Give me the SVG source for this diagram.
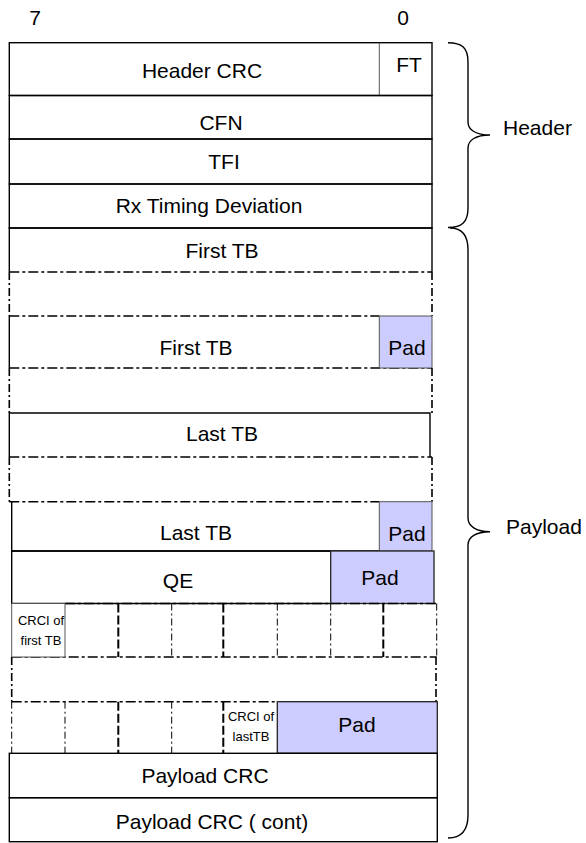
<svg xmlns="http://www.w3.org/2000/svg" width="586" height="843" viewBox="0 0 586 843">
<style>
text{font-family:"Liberation Sans",Arial,sans-serif;font-size:21px;fill:#000;text-anchor:middle}
.sm{font-size:13px}
.solid{fill:none;stroke:#000;stroke-width:1.4}
.thin{fill:none;stroke:#555;stroke-width:1}
.pad{fill:#ccccff;stroke:#555;stroke-width:1}
.pad2{fill:#ccccff;stroke:#222;stroke-width:1.3}
.dd{fill:none;stroke:#000;stroke-width:1.6;stroke-dasharray:10 3 3 3}
.ddv{fill:none;stroke:#000;stroke-width:1.6;stroke-dasharray:8 3 2 3}
.dthick{fill:none;stroke:#000;stroke-width:2;stroke-dasharray:9 3}
.dthin{fill:none;stroke:#000;stroke-width:1;stroke-dasharray:7 3 2 3}
.brace{fill:none;stroke:#000;stroke-width:1.4}
</style>
<g id="bit-labels">
<text x="35" y="25">7</text>
<text x="403" y="25">0</text>
</g>
<g id="row-header-crc">
<rect class="solid" x="9.3" y="42.7" width="422.7" height="52.8"/>
<line class="thin" x1="379.3" y1="42.7" x2="379.3" y2="95.5"/>
<text x="202" y="78">Header CRC</text>
<text x="409" y="72">FT</text>
</g>
<g id="row-cfn">
<rect class="solid" x="9.3" y="95.5" width="422.7" height="43.5"/>
<text x="221" y="130">CFN</text>
</g>
<g id="row-tfi">
<rect class="solid" x="9.3" y="139" width="422.7" height="45"/>
<text x="224" y="169">TFI</text>
</g>
<g id="row-rx">
<rect class="solid" x="9.3" y="184" width="422.7" height="44"/>
<text x="209" y="213">Rx Timing Deviation</text>
</g>
<g id="row-first-tb-1">
<path class="solid" d="M9.3,272 V228 H432 V272"/>
<line class="dd" x1="9.3" y1="272" x2="432" y2="272"/>
<text x="222" y="258">First TB</text>
</g>
<g id="row-gap-1">
<line class="ddv" x1="9.3" y1="272" x2="9.3" y2="316"/>
<line class="ddv" x1="432" y1="272" x2="432" y2="316"/>
<line class="dd" x1="9.3" y1="316" x2="379.3" y2="316"/>
</g>
<g id="row-first-tb-2">
<line class="solid" x1="9.3" y1="316" x2="9.3" y2="368"/>
<line class="dd" x1="9.3" y1="368" x2="432" y2="368"/>
<rect class="pad" x="379.3" y="316" width="52.7" height="52"/>
<text x="196" y="355">First TB</text>
<text x="407" y="355">Pad</text>
</g>
<g id="row-gap-2">
<line class="ddv" x1="9.3" y1="368" x2="9.3" y2="413"/>
<line class="ddv" x1="432" y1="368" x2="432" y2="413"/>
</g>
<g id="row-last-tb-1">
<path class="solid" d="M9.3,457 V413 H430 V457"/>
<line class="dd" x1="9.3" y1="457" x2="432" y2="457"/>
<text x="222" y="441">Last TB</text>
</g>
<g id="row-gap-3">
<line class="ddv" x1="9.3" y1="457" x2="9.3" y2="501.7"/>
<line class="ddv" x1="432" y1="457" x2="432" y2="501.7"/>
<line class="dd" x1="9.3" y1="501.7" x2="379.3" y2="501.7"/>
</g>
<g id="row-last-tb-2">
<path class="solid" d="M11.7,501.7 V551 H379.3"/>
<rect class="pad" x="379.3" y="501.7" width="52.7" height="49.3"/>
<text x="196" y="540">Last TB</text>
<text x="407" y="541">Pad</text>
</g>
<g id="row-qe">
<path class="solid" d="M11.7,551 V603.5 H330.7 M11.7,551 H330.7"/>
<rect class="pad2" x="330.7" y="551" width="103.3" height="52.5"/>
<text x="178" y="588">QE</text>
<text x="380" y="585">Pad</text>
</g>
<g id="row-crci-1">
<line class="dd" x1="65" y1="603.5" x2="436.7" y2="603.5"/>
<line class="dd" x1="11.7" y1="657" x2="436.7" y2="657"/>
<line class="dthick" x1="118.3" y1="603.5" x2="118.3" y2="657"/>
<line class="dthin" x1="171.7" y1="603.5" x2="171.7" y2="657"/>
<line class="dthick" x1="223.3" y1="603.5" x2="223.3" y2="657"/>
<line class="dthin" x1="277.3" y1="603.5" x2="277.3" y2="657"/>
<line class="dthin" x1="330.7" y1="603.5" x2="330.7" y2="657"/>
<line class="dthick" x1="383.3" y1="603.5" x2="383.3" y2="657"/>
<line class="dthin" x1="436.7" y1="603.5" x2="436.7" y2="657"/>
<rect x="11.7" y="603.5" width="53.3" height="53.5" fill="#fff" stroke="#555" stroke-width="1"/>
<text class="sm" x="41" y="625">CRCI of</text>
<text class="sm" x="41" y="645">first TB</text>
</g>
<g id="row-gap-4">
<line class="ddv" x1="11.7" y1="657" x2="11.7" y2="701.7"/>
<line class="ddv" x1="436" y1="657" x2="436" y2="701.7"/>
</g>
<g id="row-crci-2">
<line class="dd" x1="11.7" y1="701.7" x2="277.3" y2="701.7"/>
<line class="dthin" x1="11.7" y1="701.7" x2="11.7" y2="753.3"/>
<line class="dthin" x1="65" y1="701.7" x2="65" y2="753.3"/>
<line class="dthick" x1="118.3" y1="701.7" x2="118.3" y2="753.3"/>
<line class="dthin" x1="171.7" y1="701.7" x2="171.7" y2="753.3"/>
<line class="dthick" x1="223.3" y1="701.7" x2="223.3" y2="753.3"/>
<rect class="pad2" x="277.3" y="701.7" width="160" height="51.6"/>
<text class="sm" x="251" y="721">CRCI of</text>
<text class="sm" x="251" y="741">lastTB</text>
<text x="357" y="732">Pad</text>
</g>
<g id="row-payload-crc">
<rect class="solid" x="9.3" y="753.3" width="428" height="44.4"/>
<text x="205" y="783">Payload CRC</text>
</g>
<g id="row-payload-crc-cont">
<rect class="solid" x="9.3" y="797.7" width="428" height="44"/>
<text x="212" y="829">Payload CRC ( cont)</text>
</g>
<g id="braces">
<path class="brace" d="M448,42.7 C462,42.7 468,48 468,62 L468,122 C468,130 476,135 490,135 C476,135 468,140 468,148 L468,208 C468,222 462,227.5 448,227.5"/>
<path class="brace" d="M450,228 C462,228 468,236 468,250 L468,518 C468,526 476,531.7 490,531.7 C476,531.7 468,537 468,545 L468,815 C468,830 462,838 448,838"/>
</g>
<g id="brace-labels">
<text x="503" y="135" style="text-anchor:start">Header</text>
<text x="506" y="534" style="text-anchor:start">Payload</text>
</g>
</svg>
